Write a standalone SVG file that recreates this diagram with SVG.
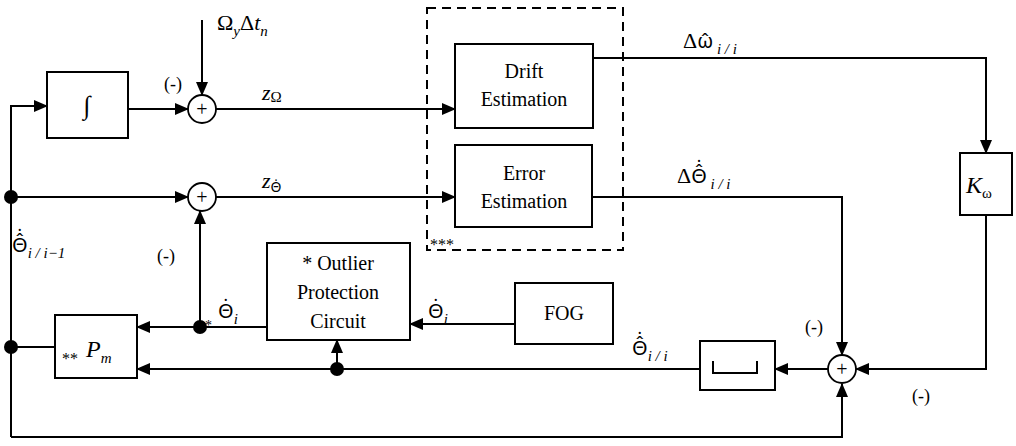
<svg xmlns="http://www.w3.org/2000/svg" width="1016" height="446" viewBox="0 0 1016 446" font-family="Liberation Serif, DejaVu Serif, serif">
<style>
.box{fill:#fff;stroke:#000;stroke-width:2}
.sum{fill:#fff;stroke:#000;stroke-width:1.8}
.ln{fill:none;stroke:#000;stroke-width:2}
.dash{fill:none;stroke:#000;stroke-width:2;stroke-dasharray:9,6}
text{font-family:"Liberation Serif","Times New Roman","DejaVu Serif",serif;fill:#000}
.t{font-size:20px}
.m{font-size:22px}
.i{font-style:italic}
.s{font-size:15px;font-style:italic}
.g{font-family:"Noto Sans","DejaVu Sans",sans-serif;font-size:20px;font-style:normal}
</style>
<defs>
<marker id="ar" markerUnits="userSpaceOnUse" markerWidth="14" markerHeight="12" refX="13" refY="6" orient="auto">
<path d="M0,0 L14,6 L0,12 Z" fill="#000"/>
</marker>
</defs>

<g id="connectors">
<path class="ln" d="M11 437 H842 V384" marker-end="url(#ar)"/>
<path class="ln" d="M11 437 V106 H47" marker-end="url(#ar)"/>
<path class="ln" d="M11 197 H188" marker-end="url(#ar)"/>
<path class="ln" d="M128 109 H188" marker-end="url(#ar)"/>
<path class="ln" d="M202 20 V95" marker-end="url(#ar)"/>
<path class="ln" d="M216 109 H455" marker-end="url(#ar)"/>
<path class="ln" d="M216 197 H455" marker-end="url(#ar)"/>
<path class="ln" d="M593 58 H986 V153" marker-end="url(#ar)"/>
<path class="ln" d="M592 197 H842 V355" marker-end="url(#ar)"/>
<path class="ln" d="M986 215 V369 H856" marker-end="url(#ar)"/>
<path class="ln" d="M828 369 H775" marker-end="url(#ar)"/>
<path class="ln" d="M700 369 H137" marker-end="url(#ar)"/>
<path class="ln" d="M337 369 V340" marker-end="url(#ar)"/>
<path class="ln" d="M515 324 H410" marker-end="url(#ar)"/>
<path class="ln" d="M267 327 H137" marker-end="url(#ar)"/>
<path class="ln" d="M200 327 V211" marker-end="url(#ar)"/>
<path class="ln" d="M55 347 H11"/>
<circle cx="11" cy="197" r="7"/>
<circle cx="11" cy="347" r="7"/>
<circle cx="200" cy="327" r="7"/>
<circle cx="337" cy="369" r="7"/>
</g>

<g id="integrator">
<rect class="box" x="47" y="72" width="81" height="66"/>
<text x="87" y="114" text-anchor="middle" style="font-size:26px">∫</text>
</g>

<g id="sum1">
<circle class="sum" cx="202" cy="109" r="14"/>
<text x="202" y="116" text-anchor="middle" style="font-size:20px">+</text>
</g>

<g id="sum3">
<circle class="sum" cx="202" cy="197" r="14"/>
<text x="202" y="204" text-anchor="middle" style="font-size:20px">+</text>
</g>

<g id="sum2">
<circle class="sum" cx="842" cy="369" r="14"/>
<text x="842" y="376" text-anchor="middle" style="font-size:20px">+</text>
</g>

<g id="estimator-group">
<rect class="dash" x="427" y="8" width="196" height="242"/>
<text x="430" y="250" style="font-size:16px">***</text>
</g>

<g id="drift">
<rect class="box" x="455" y="44" width="138" height="84"/>
<text class="t" x="524" y="78" text-anchor="middle">Drift</text>
<text class="t" x="524" y="106" text-anchor="middle">Estimation</text>
</g>

<g id="error">
<rect class="box" x="455" y="145" width="137" height="82"/>
<text class="t" x="524" y="180" text-anchor="middle">Error</text>
<text class="t" x="524" y="208" text-anchor="middle">Estimation</text>
</g>

<g id="kw">
<rect class="box" x="960" y="153" width="52" height="62"/>
<text x="966" y="193" class="i" style="font-size:24px">K<tspan style="font-size:15px;font-style:normal" dy="5">ω</tspan></text>
</g>

<g id="outlier">
<rect class="box" x="267" y="243" width="143" height="97"/>
<text class="t" x="338" y="270" text-anchor="middle">* Outlier</text>
<text class="t" x="338" y="299" text-anchor="middle">Protection</text>
<text class="t" x="338" y="328" text-anchor="middle">Circuit</text>
</g>

<g id="fog">
<rect class="box" x="515" y="283" width="98" height="61"/>
<text class="t" x="564" y="320" text-anchor="middle">FOG</text>
</g>

<g id="pm">
<rect class="box" x="55" y="315" width="82" height="63"/>
<text x="62" y="364" style="font-size:16px">**<tspan x="86" y="357" class="i" style="font-size:24px">P</tspan><tspan dy="6" class="s">m</tspan></text>
</g>

<g id="delay">
<rect class="box" x="700" y="341" width="75" height="49"/>
<path class="ln" d="M713 361 V373 H757 V361"/>
</g>

<g id="labels">
<text x="217" y="30" class="m">Ω<tspan class="s" dy="6">y</tspan><tspan dy="-6">Δ</tspan><tspan class="i">t</tspan><tspan class="s" dy="6">n</tspan></text>
<text x="164" y="90" style="font-size:18px">(-)</text>
<text x="262" y="100" class="m i">z<tspan style="font-size:15px;font-style:normal" dy="2">Ω</tspan></text>
<text x="262" y="188" class="m i">z<tspan class="g" style="font-size:14px" dy="4">Θ̇</tspan></text>

<text x="683" y="48" class="m">Δ<tspan class="g">ω̂</tspan><tspan class="s" dy="6"> i / i</tspan></text>

<text x="677" y="183" class="m">Δ<tspan class="g">Θ̂̇</tspan><tspan class="s" dy="6"> i / i</tspan></text>

<text x="12" y="252" class="m"><tspan class="g">Θ̂̇</tspan><tspan class="s" dy="6">i / i−1</tspan></text>

<text x="157" y="262" style="font-size:18px">(-)</text>

<text x="205" y="330" style="font-size:14px">*</text>
<text x="218" y="318" class="m"><tspan class="g">Θ̇</tspan><tspan class="s" dy="6">i</tspan></text>

<text x="428" y="318" class="m"><tspan class="g">Θ̇</tspan><tspan class="s" dy="6">i</tspan></text>

<text x="632" y="355" class="m"><tspan class="g">Θ̂̇</tspan><tspan class="s" dy="6">i / i</tspan></text>

<text x="805" y="333" style="font-size:18px">(-)</text>
<text x="912" y="402" style="font-size:18px">(-)</text>
</g>
</svg>
